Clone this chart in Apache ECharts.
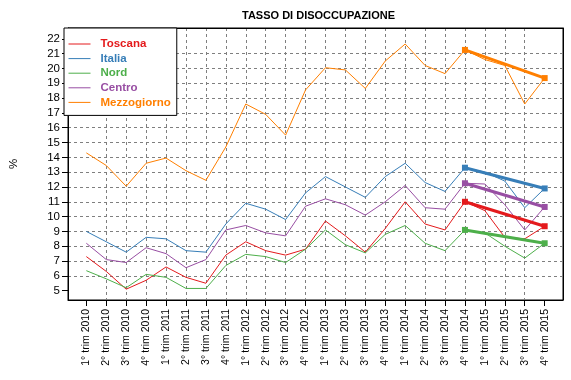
<!DOCTYPE html>
<html>
<head>
<meta charset="utf-8">
<script src="https://cdn.jsdelivr.net/npm/echarts@6/dist/echarts.min.js"></script>
<style>html,body{margin:0;padding:0;background:#fff}#c{width:571px;height:380px}</style>
</head>
<body>
<div id="c"></div>
<script>
const categories = ["1° trim 2010","2° trim 2010","3° trim 2010","4° trim 2010",
  "1° trim 2011","2° trim 2011","3° trim 2011","4° trim 2011",
  "1° trim 2012","2° trim 2012","3° trim 2012","4° trim 2012",
  "1° trim 2013","2° trim 2013","3° trim 2013","4° trim 2013",
  "1° trim 2014","2° trim 2014","3° trim 2014","4° trim 2014",
  "1° trim 2015","2° trim 2015","3° trim 2015","4° trim 2015"];
const toscana     = [7.3,6.3,5.1,5.7,6.6,5.9,5.5,7.4,8.3,7.7,7.4,7.8,9.7,8.7,7.6,9.2,11.0,9.5,9.1,11.0,10.4,8.6,8.5,9.35];
const italia      = [9.0,8.3,7.6,8.6,8.5,7.7,7.6,9.5,10.9,10.5,9.8,11.6,12.7,12.0,11.3,12.7,13.6,12.3,11.7,13.3,13.0,12.4,10.6,11.9];
const nord        = [6.35,5.8,5.2,6.1,5.9,5.15,5.15,6.7,7.45,7.3,6.9,7.8,9.1,8.1,7.55,8.8,9.4,8.2,7.7,9.1,8.9,8.0,7.2,8.2];
const centro      = [8.2,7.1,6.9,7.9,7.5,6.55,7.1,9.1,9.4,8.9,8.7,10.7,11.2,10.8,10.1,11.0,12.1,10.6,10.5,12.25,12.2,10.8,9.1,10.65];
const mezzogiorno = [14.3,13.45,12.05,13.6,13.95,13.1,12.45,14.7,17.6,16.9,15.5,18.55,20.05,19.9,18.65,20.5,21.65,20.2,19.65,21.25,20.6,20.2,17.6,19.35];
const yTicks = [5,6,7,8,9,10,11,12,13,14,15,16,17,18,19,20,21,22];
const seriesNames = ["Toscana","Italia","Nord","Centro","Mezzogiorno"];
const seriesValues = [toscana, italia, nord, centro, mezzogiorno];
const colors = ["#E41A1C","#377EB8","#4DAF4A","#984EA3","#FF7F00"];
const trendFrom = 19, trendTo = 23;

const xIdx = categories.map((c, i) => i);
const series = [];
seriesNames.forEach((n, k) => {
  series.push({
    name: n, type: 'line', symbol: 'none', z: 2,
    data: seriesValues[k].map((v, i) => [i, v]),
    lineStyle: {color: colors[k], width: 1}, itemStyle: {color: colors[k]}
  });
});
seriesNames.forEach((n, k) => {
  series.push({
    name: n + ' trend', type: 'line', symbol: 'rect', symbolSize: 6, z: 3,
    data: [[trendFrom, seriesValues[k][trendFrom]], [trendTo, seriesValues[k][trendTo]]],
    lineStyle: {color: colors[k], width: 3}, itemStyle: {color: colors[k]}
  });
});

const font = "'Liberation Sans', Arial, sans-serif";
const gridLine = {show: true, showMinLine: false, showMaxLine: false, lineStyle: {color: '#7f7f7f', width: 1, type: [3, 3]}};
const chart = echarts.init(document.getElementById('c'), null, {renderer: 'canvas'});
chart.setOption({
  animation: false,
  backgroundColor: '#fff',
  title: {text: 'TASSO DI DISOCCUPAZIONE', left: 313.5, textAlign: 'center', top: 5,
    textStyle: {fontFamily: font, fontSize: 11, fontWeight: 'bold', color: '#000'}},
  grid: {left: 64, right: 8, top: 28, bottom: 80, show: true, borderColor: '#000', borderWidth: 1, backgroundColor: 'transparent'},
  legend: {
    orient: 'vertical', left: 64, top: 28,
    data: seriesNames.map((n, k) => ({name: n, textStyle: {color: colors[k]}})),
    itemWidth: 22, itemHeight: 12, itemGap: 2.6,
    padding: [10, 6, 7, 4],
    itemStyle: {opacity: 0},
    lineStyle: {width: 1},
    backgroundColor: '#fff', borderColor: '#000', borderWidth: 1, borderRadius: 0,
    textStyle: {fontFamily: font, fontSize: 11.5, fontWeight: 'bold', padding: [0, 0, 0, 5]},
    z: 10
  },
  xAxis: [{
    type: 'value', min: -0.92, max: 23.92, minInterval: 1, maxInterval: 1,
    axisLine: {show: true, onZero: false, lineStyle: {color: '#000'}},
    axisTick: {show: true, customValues: xIdx, length: 6, lineStyle: {color: '#000'}},
    axisLabel: {customValues: xIdx, rotate: 90, margin: 9, fontFamily: font, fontSize: 10.5, color: '#000',
      formatter: v => categories[v] || ''},
    splitLine: gridLine
  }, {
    type: 'value', position: 'top', min: -0.92, max: 23.92, z: 5,
    axisLine: {show: true, onZero: false, lineStyle: {color: '#000'}},
    axisTick: {show: false}, axisLabel: {show: false}, splitLine: {show: false}
  }],
  yAxis: [{
    type: 'value', min: 4.37, max: 22.73, minInterval: 1, maxInterval: 1,
    name: '%', nameLocation: 'middle', nameGap: 48, nameRotate: 90,
    nameTextStyle: {fontFamily: font, fontSize: 11.5, color: '#000'},
    axisLine: {show: true, onZero: false, lineStyle: {color: '#000'}},
    axisTick: {show: true, customValues: yTicks, length: 6, lineStyle: {color: '#000'}},
    axisLabel: {customValues: yTicks, margin: 8, fontFamily: font, fontSize: 11.5, color: '#000'},
    splitLine: gridLine
  }, {
    type: 'value', position: 'right', min: 4.37, max: 22.73, z: 5,
    axisLine: {show: true, onZero: false, lineStyle: {color: '#000'}},
    axisTick: {show: false}, axisLabel: {show: false}, splitLine: {show: false}
  }],
  series: series
});
</script>
</body>
</html>
